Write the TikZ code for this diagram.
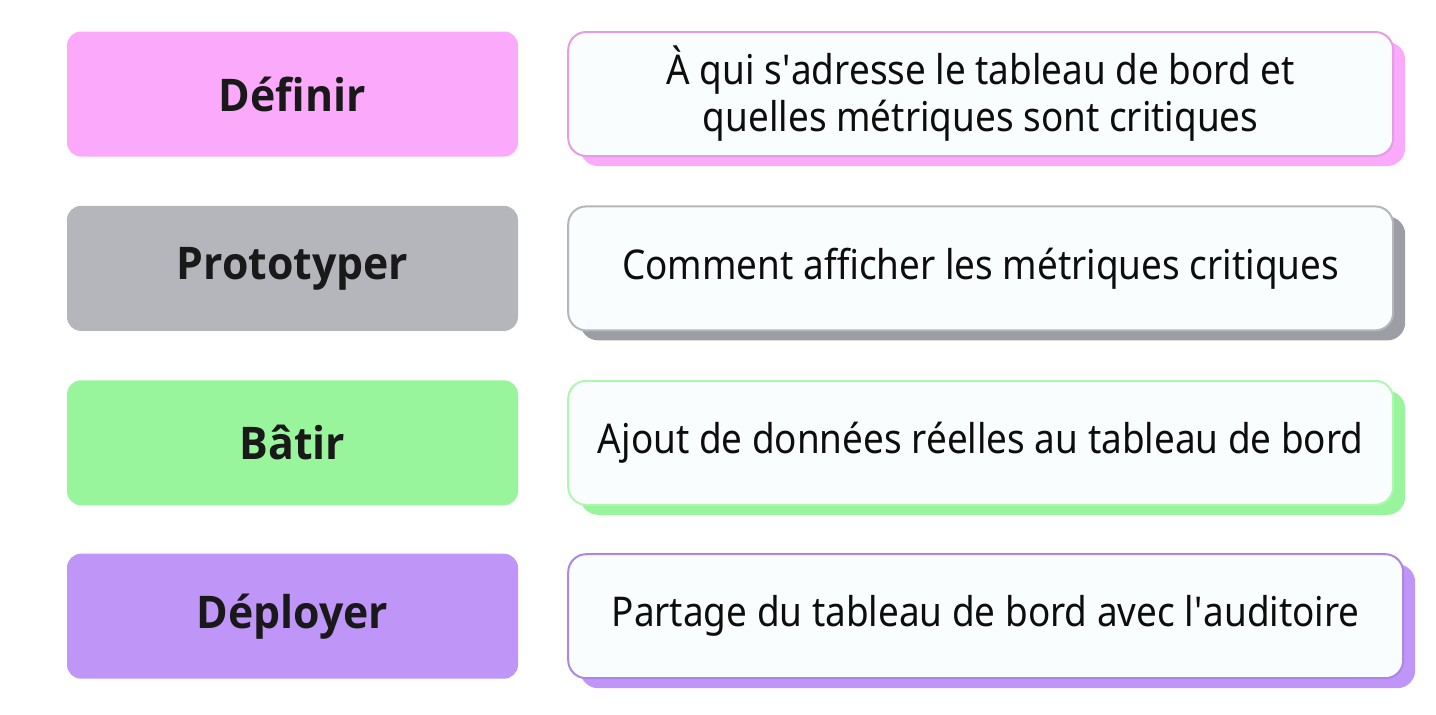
\documentclass[tikz,border=0pt]{standalone}
\usepackage{fontspec}
\setmainfont{Noto Sans}[FakeStretch=0.9]
\newfontfamily\stagefont{Open Sans}[FakeStretch=0.95]
\usetikzlibrary{positioning,shadows}

\definecolor{defpink}{HTML}{FBA9FB}
\definecolor{protogray}{HTML}{B5B6BC}
\definecolor{protoshade}{HTML}{9C9DA5}
\definecolor{batgreen}{HTML}{98F59B}
\definecolor{deppurple}{HTML}{BF95F8}
\definecolor{cardwhite}{HTML}{FAFDFE}

\tikzset{
  stage/.style={rounded corners=14pt, minimum width=451pt, minimum height=125pt,
    inner sep=0pt, font=\stagefont\fontsize{45}{52}\selectfont\bfseries, text=black!90},
  card/.style={rounded corners=18pt, fill=cardwhite, line width=2pt,
    minimum height=124pt, inner sep=0pt, align=center,
    font=\fontsize{41}{47}\selectfont, text=black!95},
  cardshadow/.style={drop shadow={shadow xshift=12pt, shadow yshift=-10pt,
    fill=#1, opacity=1}},
}

\begin{document}
\begin{tikzpicture}[x=1pt, y=-1pt]
    \useasboundingbox (0,0) rectangle (1436,715);
    % Stages
    \node[stage, fill=defpink] (definir) at (292.5,94) {Définir};
    \node[stage, fill=protogray, below=49pt of definir] (prototyper) {Prototyper};
    \node[stage, fill=batgreen, below=49pt of prototyper] (batir) {Bâtir};
    \node[stage, fill=deppurple, below=48pt of batir] (deployer) {Déployer};
    % Descriptions
    \node[card, draw=defpink!90!black!95, minimum width=825pt, cardshadow=defpink,
        right=49pt of definir] (qui) {À qui s\textquotesingle adresse le tableau de bord et\\quelles métriques sont critiques};
    \node[card, draw=protogray, minimum width=825pt, cardshadow=protoshade,
        right=49pt of prototyper] (comment) {Comment afficher les métriques critiques};
    \node[card, draw=batgreen!80!white, minimum width=825pt, cardshadow=batgreen,
        right=49pt of batir] (ajout) {Ajout de données réelles au tableau de bord};
    \node[card, draw=deppurple!90!black, minimum width=835pt, cardshadow=deppurple,
        right=49pt of deployer] (partage) {Partage du tableau de bord avec l\textquotesingle auditoire};
\end{tikzpicture}
\end{document}
